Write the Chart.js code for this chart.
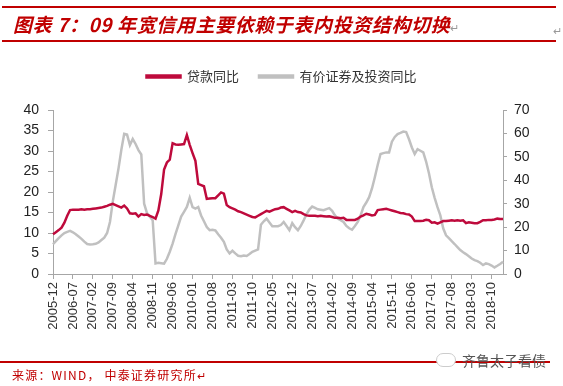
<!DOCTYPE html>
<html>
<head>
<meta charset="utf-8">
<script src="https://cdn.jsdelivr.net/npm/chart.js@4"></script>
<style>
  body { margin: 0; background: #fff; font-family: "Noto Sans CJK SC", sans-serif; }
  #wrap { position: relative; width: 563px; height: 386px; overflow: hidden; }
  #chart-box { position: absolute; left: 0; top: 0; width: 563px; height: 386px; }
  .rule { position: absolute; left: 2px; width: 554px; height: 2px; background: #c00000; }
  #title { position: absolute; left: 13px; top: 11px; font-size: 19px; font-weight: bold; font-style: italic;
           color: #c00000; white-space: nowrap; line-height: 26px; letter-spacing: 0.6px; }
  .ret { color: #999; font-size: 11px; font-style: normal; font-weight: normal; }
  #source { position: absolute; left: 12px; top: 367px; font-size: 12px; color: #c00000; white-space: nowrap;
            letter-spacing: 1.2px; line-height: 16px; }
  #mark { position: absolute; left: 436px; top: 351px; font-size: 14px; color: #555; white-space: nowrap;
          line-height: 18px; }
  #mark .ico { display: inline-block; width: 18px; height: 12px; border: 1px solid #ccc; border-radius: 8px;
               margin-right: 6px; vertical-align: -1px; background: #fff; }
</style>
</head>
<body>
<div id="wrap">
  <div id="chart-box"><canvas id="chart"></canvas></div>
  <div class="rule" style="top:6px"></div>
  <div id="title">图表 7：09 年宽信用主要依赖于表内投资结构切换<span class="ret">↵</span></div>
  <div class="ret" style="position:absolute;left:553px;top:22px">↵</div>
  <div class="rule" style="top:40px"></div>
  <div class="rule" style="top:361px;left:0;width:550px"></div>
  <div id="mark"><span class="ico"></span>齐鲁太子看债</div>
  <div id="source">来源：WIND， 中泰证券研究所<span class="ret" style="color:#c00000">↵</span></div>
</div>
<script>
// monthly, 2005-12 .. 2019-02
const startYear = 2005, startMonth = 12, monthCount = 159;
const months = [];
for (let i = 0; i < monthCount; i++) {
  const m = startMonth - 1 + i;
  const y = startYear + Math.floor(m / 12);
  months.push(y + '-' + String(m % 12 + 1).padStart(2, '0'));
}

// 贷款同比 (left axis, %)
const loanYoY = [
  9.7, 10.2, 10.7, 11.3, 12.5, 14.2, 15.6, 15.7, 15.7, 15.7,
  15.8, 15.7, 15.8, 15.8, 15.9, 16.0, 16.1, 16.2, 16.4, 16.6,
  16.9, 17.1, 16.8, 16.5, 16.2, 16.7, 16.0, 14.8, 14.7, 14.8,
  14.0, 14.6, 14.4, 14.5, 14.2, 13.9, 13.5, 15.5, 19.5, 25.5,
  27.2, 27.9, 31.9, 31.6, 31.5, 31.6, 31.7, 33.9, 31.5, 29.5,
  27.6, 22.0, 21.7, 21.4, 18.3, 18.4, 18.5, 18.5, 19.2, 19.9,
  19.6, 16.8, 16.3, 16.0, 15.7, 15.3, 15.1, 14.8, 14.5, 14.2,
  13.9, 13.8, 14.2, 14.6, 15.0, 15.4, 15.2, 15.5, 15.8, 15.9,
  16.2, 16.3, 15.9, 15.5, 15.1, 15.4, 15.1, 15.0, 14.6, 14.3,
  14.2, 14.2, 14.2, 14.1, 14.2, 14.1, 14.0, 14.1, 13.9, 13.7,
  13.7, 13.6, 13.7, 13.2, 13.2, 13.2, 13.2, 13.5, 14.0, 14.3,
  14.7, 14.5, 14.3, 14.4, 15.6, 15.7, 15.8, 15.9, 15.7, 15.5,
  15.3, 15.1, 14.9, 14.8, 14.6, 14.5, 14.0, 12.9, 12.9, 12.9,
  13.0, 13.2, 13.1, 12.5, 12.6, 12.3, 12.6, 12.9, 12.9, 13.0,
  13.1, 13.0, 13.1, 13.0, 13.1, 12.4, 12.6, 12.5, 12.4, 12.4,
  12.7, 13.1, 13.1, 13.2, 13.2, 13.3, 13.5, 13.4, 13.4
];

// 有价证券及投资同比 (right axis, %)
const securitiesYoY = [
  12.7, 14.0, 15.3, 16.5, 17.5, 18.0, 18.4, 17.8, 17.0, 16.0,
  15.0, 13.8, 12.8, 12.6, 12.7, 12.9, 13.5, 14.5, 15.5, 17.5,
  22.2, 31.0, 38.0, 45.0, 53.0, 59.8, 59.5, 55.0, 57.6, 55.5,
  52.9, 51.0, 30.0, 26.0, 24.5, 23.0, 4.5, 4.8, 4.6, 4.4,
  6.5, 9.5, 13.0, 17.0, 20.8, 24.5, 26.5, 28.6, 32.5, 28.5,
  27.9, 28.6, 25.0, 22.5, 20.0, 18.7, 18.9, 18.6, 17.0, 15.5,
  13.7, 10.5, 8.8, 9.9, 8.8, 7.8, 7.6, 7.9, 7.7, 8.5,
  9.5, 10.0, 10.5, 21.0, 22.5, 23.6, 22.0, 20.4, 20.4, 20.4,
  20.9, 22.2, 20.5, 18.7, 21.7, 20.0, 18.7, 20.5, 22.9, 25.5,
  27.5, 28.8, 28.2, 27.6, 27.4, 27.2, 27.7, 28.1, 27.0, 25.0,
  23.6, 23.0, 22.2, 20.5, 19.5, 18.9, 20.5, 22.2, 25.0, 28.6,
  30.5, 32.8, 36.5, 41.3, 46.5, 51.2, 51.6, 51.9, 51.9, 56.5,
  58.5, 59.7, 60.2, 60.8, 60.6, 57.5, 54.0, 51.2, 53.3, 52.6,
  51.9, 48.0, 43.0, 37.0, 32.5, 28.5, 25.0, 19.5, 16.5, 15.3,
  14.0, 12.8, 11.5, 10.2, 9.3, 8.5, 7.6, 6.6, 5.9, 5.5,
  4.8, 3.8, 4.5, 4.2, 3.6, 2.8, 3.5, 4.3, 5.2
];

const leftMax = 40, leftStep = 5;
const rightMax = 70, rightStep = 10;
const labelEvery = 7;

const RED = '#be0a3c';
const GREY = '#c0c0c0';
const AXIS = '#a6a6a6';

// push the plot down below the legend
const legendGap = {
  id: 'legendGap',
  beforeInit(chart) {
    const fit = chart.legend.fit;
    chart.legend.fit = function() {
      fit.bind(chart.legend)();
      this.height += 17;
    };
  }
};

new Chart(document.getElementById('chart'), {
  type: 'line',
  data: {
    labels: months,
    datasets: [
      {
        label: '贷款同比',
        data: loanYoY,
        yAxisID: 'y',
        borderColor: RED,
        backgroundColor: RED,
        borderWidth: 2.5,
        pointRadius: 0,
        tension: 0,
        order: 0
      },
      {
        label: '有价证券及投资同比',
        data: securitiesYoY,
        yAxisID: 'y1',
        borderColor: GREY,
        backgroundColor: GREY,
        borderWidth: 2.5,
        pointRadius: 0,
        tension: 0,
        order: 1
      }
    ]
  },
  options: {
    responsive: true,
    maintainAspectRatio: false,
    animation: false,
    layout: { padding: { top: 50, left: 0, right: 0, bottom: 0 } },
    plugins: {
      legend: {
        position: 'top',
        labels: {
          boxWidth: 34,
          boxHeight: 2,
          padding: 20,
          color: '#333',
          font: { size: 13, family: '"Noto Sans CJK SC", sans-serif' }
        }
      },
      tooltip: { enabled: false }
    },
    scales: {
      x: {
        offset: false,
        border: { display: true, color: AXIS, width: 1 },
        grid: { drawOnChartArea: false, drawTicks: true, tickLength: 5, color: AXIS },
        ticks: {
          autoSkip: false,
          maxRotation: 90,
          minRotation: 90,
          padding: 3,
          color: '#333',
          font: { size: 13, family: '"Liberation Sans", Arial, sans-serif' },
          callback: function(value, index) {
            return index % labelEvery === 0 ? this.getLabelForValue(value) : null;
          }
        },
        afterFit: s => { s.height = 112; }
      },
      y: {
        position: 'left',
        min: 0,
        max: leftMax,
        border: { display: true, color: AXIS, width: 1 },
        grid: { drawOnChartArea: false, drawTicks: true, tickLength: 5, color: AXIS },
        ticks: {
          stepSize: leftStep,
          padding: 9,
          color: '#222',
          font: { size: 14, family: '"Liberation Sans", Arial, sans-serif' }
        },
        afterFit: s => { s.width = 53; }
      },
      y1: {
        position: 'right',
        min: 0,
        max: rightMax,
        border: { display: true, color: AXIS, width: 1 },
        grid: { drawOnChartArea: false, drawTicks: true, tickLength: 4, color: AXIS },
        ticks: {
          stepSize: rightStep,
          padding: 7,
          color: '#222',
          font: { size: 14, family: '"Liberation Sans", Arial, sans-serif' }
        },
        afterFit: s => { s.width = 60; }
      }
    }
  },
  plugins: [legendGap]
});
</script>
</body>
</html>
